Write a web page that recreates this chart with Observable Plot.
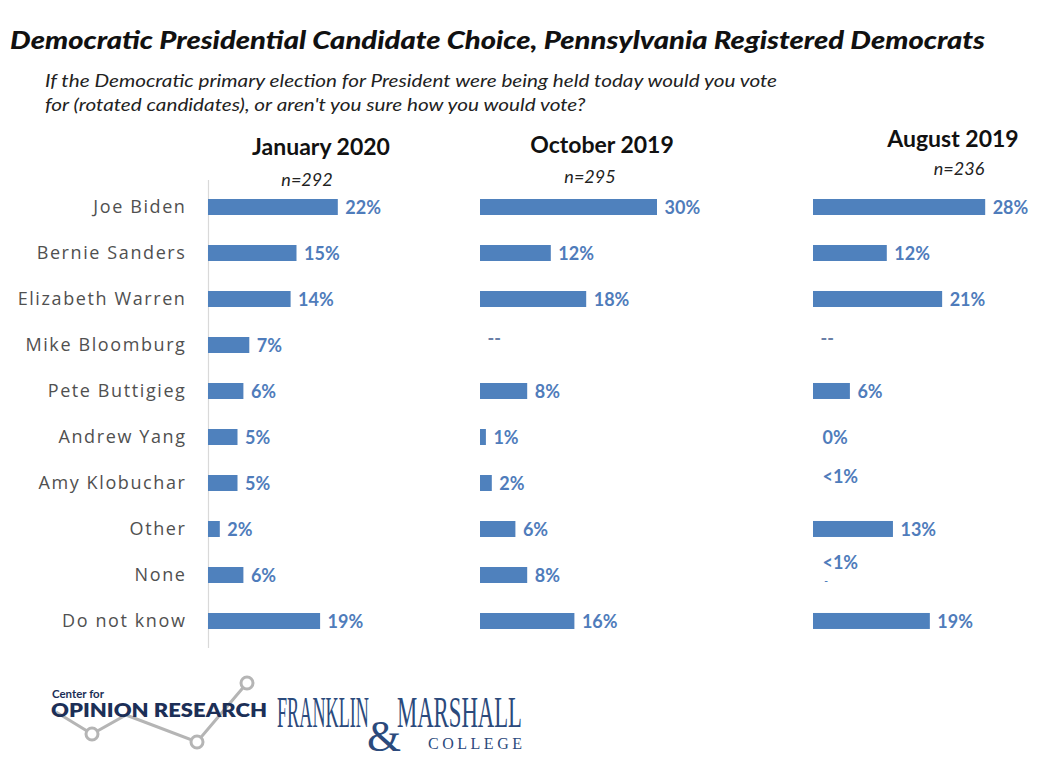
<!DOCTYPE html>
<html><head><meta charset="utf-8">
<script src="https://cdn.jsdelivr.net/npm/d3@7"></script>
<script src="https://cdn.jsdelivr.net/npm/@observablehq/plot@0.6"></script>
<style>
html,body{margin:0;padding:0;background:#fff}
body{width:1049px;height:763px;position:relative;overflow:hidden;font-family:Lato,sans-serif}
.abs{position:absolute;white-space:nowrap}
.fit{display:inline-block;transform-origin:0 0}
#title{left:10px;top:27px;font-size:25px;font-weight:900;font-style:italic;color:#111;line-height:1}
.sub{left:45px;font-size:17px;font-style:italic;color:#222;line-height:1}
.panel svg{overflow:visible}
.panel g[font-family="Open Sans"]{letter-spacing:1.6px}
</style></head><body>
<div id="title" class="abs"><span class="fit" id="titleSpan">Democratic Presidential Candidate Choice, Pennsylvania Registered Democrats</span></div>
<div id="sub1" class="abs sub" style="top:72px"><span class="fit" id="sub1Span">If the Democratic primary election for President were being held today would you vote</span></div>
<div id="sub2" class="abs sub" style="top:96px"><span class="fit" id="sub2Span">for (rotated candidates), or aren't you sure how you would vote?</span></div>
<div id="p1" class="abs panel" style="left:0;top:160px"></div>
<div id="p2" class="abs panel" style="left:460px;top:160px"></div>
<div id="p3" class="abs panel" style="left:793px;top:160px"></div>
<svg id="heads" class="abs" style="left:0;top:0;pointer-events:none" width="1049" height="200"></svg>
<svg id="logo" class="abs" style="left:0;top:660px" width="760" height="103">
  <polyline points="56,52 92,74 126,55 197,82 247,23" fill="none" stroke="#b5b5b5" stroke-width="3"/>
  <circle cx="92" cy="74" r="6" fill="#fff" stroke="#b5b5b5" stroke-width="3"/>
  <circle cx="197" cy="82" r="6" fill="#fff" stroke="#b5b5b5" stroke-width="3"/>
  <circle cx="247" cy="23" r="6" fill="#fff" stroke="#b5b5b5" stroke-width="3"/>
  <text x="52" y="38" font-family="Lato" font-weight="700" font-size="12" textLength="52" lengthAdjust="spacingAndGlyphs" fill="#1c2f57">Center for</text>
  <text x="51" y="57" font-family="Lato" font-weight="800" font-size="19" textLength="216" lengthAdjust="spacingAndGlyphs" fill="#1c2f57">OPINION RESEARCH</text>
  <text x="277" y="67" font-family="Liberation Serif" font-size="44" textLength="92" lengthAdjust="spacingAndGlyphs" fill="#2b4a7c">FRANKLIN</text>
  <text x="367" y="91" font-family="Liberation Serif" font-size="44" textLength="34" lengthAdjust="spacingAndGlyphs" fill="#2b4a7c">&amp;</text>
  <text x="397" y="67" font-family="Liberation Serif" font-size="44" textLength="125" lengthAdjust="spacingAndGlyphs" fill="#2b4a7c">MARSHALL</text>
  <text x="428" y="89" font-family="Liberation Serif" font-size="16" textLength="94" lengthAdjust="spacing" fill="#2b4a7c">COLLEGE</text>
</svg>
<script>
const categories = ["Joe Biden","Bernie Sanders","Elizabeth Warren","Mike Bloomburg","Pete Buttigieg","Andrew Yang","Amy Klobuchar","Other","None","Do not know"];
const periods = ["January 2020","October 2019","August 2019"];
const sampleSizes = ["n=292","n=295","n=236"];
const jan2020 = [22,15,14,7,6,5,5,2,6,19];
const oct2019 = [30,12,18,null,8,1,2,6,8,16];
const aug2019 = [28,12,21,null,6,0,0,13,0,19];
const jan2020Labels = ["22%","15%","14%","7%","6%","5%","5%","2%","6%","19%"];
const oct2019Labels = ["30%","12%","18%","--","8%","1%","2%","6%","8%","16%"];
const aug2019Labels = ["28%","12%","21%","--","6%","0%","<1%","13%","<1%","19%"];

const BAR = "#4F81BD", LAB = "#4f7cbb";

function panel(values, labels, {width, marginLeft, xmax, axis, shifted = {}}) {
  const rows = categories.map((c, i) => ({cat: c, v: values[i], label: labels[i]}));
  const normal = rows.filter(d => !(d.cat in shifted) && d.label !== "--");
  const dashes = rows.filter(d => d.label === "--");
  const marks = [];
  if (axis) {
    marks.push(Plot.ruleX([0], {stroke: "#d9d9d9", strokeWidth: 1.2}));
    marks.push(Plot.text(categories, {y: d => d, frameAnchor: "left", textAnchor: "end", dx: -22,
      fontFamily: "Open Sans", fontSize: 18, fill: "#505050"}));
  }
  marks.push(Plot.barX(rows.filter(d => d.v > 0), {x: "v", y: "cat", fill: BAR}));
  const txt = {x: d => d.v || 0, y: "cat", text: "label", textAnchor: "start", fontFamily: "Lato",
    fontWeight: 700, fontSize: 18, fill: LAB};
  marks.push(Plot.text(normal, {...txt, dx: 7, dy: 1}));
  marks.push(Plot.text(dashes, {...txt, dx: 7, dy: -6, fill: "#6a7fa6"}));
  for (const [cat, dy] of Object.entries(shifted)) {
    marks.push(Plot.text(rows.filter(d => d.cat === cat), {...txt, dx: 9, dy}));
  }
  return Plot.plot({
    width, height: 500, marginLeft, marginRight: 0, marginTop: 20, marginBottom: 12,
    x: {domain: [0, xmax], axis: null},
    y: {domain: categories, paddingInner: 0.654, paddingOuter: 0.36, axis: null},
    style: {background: "transparent", overflow: "visible"},
    marks
  });
}

document.getElementById("p1").append(panel(jan2020, jan2020Labels, {width: 444, marginLeft: 208, xmax: 40, axis: true}));
document.getElementById("p2").append(panel(oct2019, oct2019Labels, {width: 256, marginLeft: 20, xmax: 40}));
const p3 = panel(aug2019, aug2019Labels, {width: 241.4, marginLeft: 20, xmax: 36,
  shifted: {"Andrew Yang": 1, "Amy Klobuchar": -6, "None": -12}});
document.getElementById("p3").append(p3);
// tiny mark under the August "None" label
d3.select(p3).append("text").attr("x", 33).attr("y", 424).attr("fill", LAB)
  .attr("font-family", "Lato").attr("font-weight", 700).attr("font-size", 10).text("-");

// panel headers
const headX = [321, 602, 953], headY = [155, 153, 147];
const nX = [307, 590, 959], nY = [186, 183, 175];
const heads = d3.select("#heads");
periods.forEach((p, i) => {
  heads.append("text").attr("x", headX[i]).attr("y", headY[i]).attr("text-anchor", "middle")
    .attr("font-family", "Lato").attr("font-weight", 700).attr("font-size", 23).attr("fill", "#111").text(p);
  heads.append("text").attr("x", nX[i]).attr("y", nY[i]).attr("text-anchor", "middle")
    .attr("font-family", "Lato").attr("font-style", "italic").attr("font-size", 18).attr("fill", "#222").text(sampleSizes[i]);
});

// fit title/subtitle widths
function fit(id, target) {
  const el = document.getElementById(id);
  const w = el.getBoundingClientRect().width;
  const s = target / w;
  el.style.transform = `scaleX(${s})`;
  return s;
}
fit("titleSpan", 975);
const s1 = fit("sub1Span", 732);
document.getElementById("sub2Span").style.transform = `scaleX(${s1})`;
</script>
</body></html>
